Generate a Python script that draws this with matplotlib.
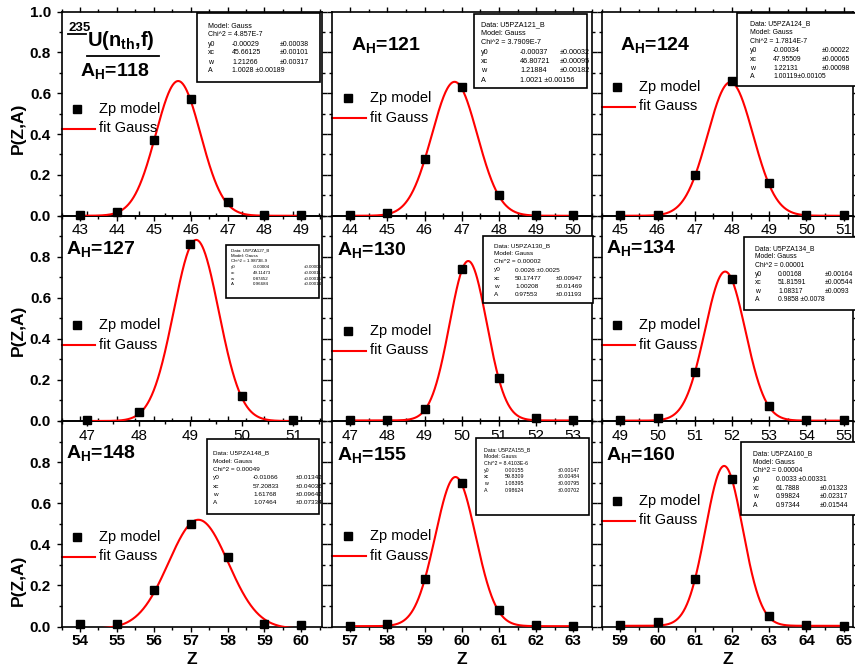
import numpy as np
import matplotlib
matplotlib.use('Agg')
import matplotlib.pyplot as plt
from matplotlib.patches import Rectangle
from matplotlib.lines import Line2D
from matplotlib.ticker import MultipleLocator

plt.rcParams['font.family'] = ['Liberation Sans', 'DejaVu Sans']
plt.rcParams['mathtext.fontset'] = 'custom'
plt.rcParams['mathtext.rm'] = 'Liberation Sans:bold'
plt.rcParams['mathtext.bf'] = 'Liberation Sans:bold'
plt.rcParams['mathtext.it'] = 'Liberation Sans:bold'
plt.rcParams['mathtext.default'] = 'bf'

# ---------------- data ----------------
mass_numbers = [118, 121, 124, 127, 130, 134, 148, 155, 160]

z_118 = [43, 44, 45, 46, 47, 48, 49]
p_118 = [0.005, 0.02, 0.37, 0.57, 0.065, 0.005, 0.003]
z_121 = [44, 45, 46, 47, 48, 49, 50]
p_121 = [0.003, 0.015, 0.28, 0.63, 0.103, 0.003, 0.003]
z_124 = [45, 46, 47, 48, 49, 50, 51]
p_124 = [0.003, 0.005, 0.20, 0.66, 0.16, 0.005, 0.003]
z_127 = [47, 48, 49, 50, 51]
p_127 = [0.005, 0.045, 0.86, 0.12, 0.003]
z_130 = [47, 48, 49, 50, 51, 52, 53]
p_130 = [0.003, 0.003, 0.06, 0.74, 0.21, 0.015, 0.003]
z_134 = [49, 50, 51, 52, 53, 54, 55]
p_134 = [0.005, 0.015, 0.24, 0.69, 0.075, 0.005, 0.003]
z_148 = [54, 55, 56, 57, 58, 59, 60]
p_148 = [0.01, 0.01, 0.18, 0.50, 0.34, 0.014, 0.008]
z_155 = [57, 58, 59, 60, 61, 62, 63]
p_155 = [0.003, 0.01, 0.23, 0.70, 0.08, 0.005, 0.003]
z_160 = [59, 60, 61, 62, 63, 64, 65]
p_160 = [0.005, 0.02, 0.23, 0.72, 0.05, 0.005, 0.003]

z_sets = [z_118, z_121, z_124, z_127, z_130, z_134, z_148, z_155, z_160]
p_sets = [p_118, p_121, p_124, p_127, p_130, p_134, p_148, p_155, p_160]

data_names = ['', 'U5PZA121_B', 'U5PZA124_B', 'U5PZA127_B', 'U5PZA130_B',
              'U5PZA134_B', 'U5PZA148_B', 'U5PZA155_B', 'U5PZA160_B']
chi2_txt = ['4.857E-7', '3.7909E-7', '1.7814E-7', '1.9873E-9', '0.00002',
            '0.00001', '0.00049', '8.4103E-6', '0.00004']
y0_txt = ['-0.00029', '-0.00037', '-0.00034', '-0.00004', '0.0026',
          '0.00168', '-0.01066', '0.00155', '0.0033']
y0_err = ['0.00038', '0.00032', '0.00022', '0.00003', '0.0025',
          '0.00164', '0.01342', '0.00147', '0.00331']
xc_txt = ['45.66125', '46.80721', '47.95509', '49.11473', '50.17477',
          '51.81591', '57.20833', '59.8309', '61.7888']
xc_err = ['0.00101', '0.00095', '0.00065', '0.00011', '0.00947',
          '0.00544', '0.04036', '0.00484', '0.01323']
w_txt = ['1.21266', '1.21884', '1.22131', '0.87452', '1.00208',
         '1.08317', '1.61768', '1.08395', '0.99824']
w_err = ['0.00317', '0.00182', '0.00098', '0.00015', '0.01469',
         '0.0093', '0.09642', '0.00795', '0.02317']
A_txt = ['1.0028', '1.0021', '1.00119', '0.96684', '0.97553',
         '0.9858', '1.07464', '0.98624', '0.97344']
A_err = ['0.00189', '0.00156', '0.00105', '0.00014', '0.01193',
         '0.0078', '0.07334', '0.00702', '0.01544']
# parameters printed with the error right after the value (panel, parameter) -> separator
inline_err = {(0, 'A'): ' ', (1, 'A'): ' ', (2, 'A'): '', (4, 'y0'): ' ',
              (5, 'A'): ' ', (8, 'y0'): ' '}

# ---------------- layout (pixels, origin top-left) ----------------
W, H = 855, 668
col_L = [61.5, 332.3, 601.7]
col_R = [321.7, 592.3, 853.0]
row_T = [11.5, 215.7, 421.0]
row_B = [215.7, 421.0, 626.5]
col_pad = [(0.50, 0.55), (0.48, 0.51), (0.50, 0.25)]

# fit boxes: left, top, right, bottom, label x, value x, error x, first line y, line step
boxes = [
    (197, 13, 320, 82, 208, 232, 280, 26.0, 9.0),
    (474, 14, 587, 88, 481, 520, 560, 24.3, 9.3),
    (737, 13, 860, 86, 750, 773, 822, 24.0, 8.8),
    (226, 245, 319, 298, 231, 253, 304, 250.0, 5.7),
    (483, 236, 593, 303, 494, 515, 556, 245.7, 8.1),
    (744, 237, 860, 310, 755, 778, 825, 248.3, 8.6),
    (207, 439, 319, 514, 213, 253, 296, 453.3, 8.2),
    (476, 438, 589, 515, 484, 505, 558, 450.0, 6.7),
    (741, 442, 860, 515, 753, 776, 820, 453.3, 8.7),
]
legend_y = [109, 98, 87, 325, 331, 325, 537, 536, 501]
title_y = [70.7, 45, 45, 249, 250, 248, 453, 455, 455]
title_dx = [18.5, 18.5, 18.5, 4.5, 4.5, 4.5, 4.5, 4.5, 4.5]
ylabel_y = [128, 330, 580]


def fx(px):
    return px / W


def fy(py):
    return 1 - py / H


fig = plt.figure(figsize=(W / 100, H / 100), dpi=100)

for k in range(9):
    r, c = divmod(k, 3)
    L, R, T, B = col_L[c], col_R[c], row_T[r], row_B[r]
    ax = fig.add_axes([fx(L), fy(B), (R - L) / W, (B - T) / H])
    ax.set_facecolor('none')
    ax.set_zorder(10 - r)

    z = np.array(z_sets[k], dtype=float)
    p = np.array(p_sets[k], dtype=float)
    y0, xc, w, A = float(y0_txt[k]), float(xc_txt[k]), float(w_txt[k]), float(A_txt[k])
    zz = np.linspace(z.min(), z.max(), 500)
    g = y0 + A / (w * np.sqrt(np.pi / 2)) * np.exp(-2 * (zz - xc) ** 2 / w ** 2)
    ax.plot(zz, g, color='#ff0000', lw=1.5, zorder=3)
    ax.plot(z, p, 's', color='black', ms=6, clip_on=False, zorder=4)

    lo, hi = col_pad[c]
    ax.set_xlim(z.min() - lo, z.max() + hi)
    ax.set_ylim(0, 1.0)
    ax.xaxis.set_major_locator(MultipleLocator(1))
    ax.xaxis.set_minor_locator(MultipleLocator(0.5))
    ax.yaxis.set_minor_locator(MultipleLocator(0.1))
    if r == 0:
        ax.set_yticks([0, 0.2, 0.4, 0.6, 0.8, 1.0])
    else:
        ax.set_yticks([0, 0.2, 0.4, 0.6, 0.8])
    ax.tick_params(which='both', direction='out', top=True, right=True, width=1.0)
    ax.tick_params(which='major', length=3.5)
    ax.tick_params(which='minor', length=2.0)
    ax.tick_params(axis='x', labelsize=11, pad=2)
    ax.tick_params(axis='y', labelsize=11, pad=4)
    for s in ax.spines.values():
        s.set_linewidth(1.2)
    if c != 0:
        ax.set_yticklabels([])
    else:
        for t in ax.get_yticklabels():
            t.set_fontweight('bold')
    if r == 2:
        for t in ax.get_xticklabels():
            t.set_fontweight('bold')

    def ax_xy(px, py, L=L, R=R, T=T, B=B):
        return (px - L) / (R - L), (B - py) / (B - T)

    # legend
    ly = legend_y[k]
    mx, my = ax_xy(L + 15.2, ly)
    ax.plot([mx], [my], 's', color='black', ms=6, transform=ax.transAxes, clip_on=False)
    tx, _ = ax_xy(L + 37.5, ly)
    ax.text(tx, my, 'Zp model', transform=ax.transAxes, fontsize=10.5,
            va='center', ha='left')
    l0, ly2 = ax_xy(L, ly + 19.5)
    l1, _ = ax_xy(L + 33.5, ly + 19.5)
    ax.plot([l0, l1], [ly2, ly2], color='#ff0000', lw=1.5, transform=ax.transAxes,
            clip_on=False)
    ax.text(tx, ly2, 'fit Gauss', transform=ax.transAxes, fontsize=10.5,
            va='center', ha='left')

    # title
    ttx, tty = ax_xy(L + title_dx[k], title_y[k])
    ax.text(ttx, tty, r'A$_{H}$=' + str(mass_numbers[k]), transform=ax.transAxes,
            fontsize=14, fontweight='bold', va='center', ha='left')

    # fit box
    bl, bt, br, bb, xl, xv, xe, ly1, dy = boxes[k]
    fig.patches.append(Rectangle((fx(bl), fy(bb)), (br - bl) / W, (bb - bt) / H,
                                 transform=fig.transFigure, fill=True,
                                 facecolor='white', edgecolor='black', lw=1.2,
                                 zorder=20))
    fs = dy * 0.78 * 0.72
    lines = []
    if data_names[k]:
        lines.append(('Data: ' + data_names[k], None, None))
    lines.append(('Model: Gauss', None, None))
    lines.append(('Chi^2 = ' + chi2_txt[k], None, None))
    for name, v, e in [('y0', y0_txt[k], y0_err[k]), ('xc', xc_txt[k], xc_err[k]),
                       ('w', w_txt[k], w_err[k]), ('A', A_txt[k], A_err[k])]:
        if (k, name) in inline_err:
            lines.append((name, v + inline_err[(k, name)] + '\u00b1' + e, None))
        else:
            lines.append((name, v, '\u00b1' + e))
    for i, (a, b, e) in enumerate(lines):
        yy = fy(ly1 + i * dy)
        fig.text(fx(xl), yy, a, fontsize=fs, va='center', ha='left', zorder=21)
        if b is not None:
            fig.text(fx(xv), yy, b, fontsize=fs, va='center', ha='left', zorder=21)
        if e is not None:
            fig.text(fx(xe), yy, e, fontsize=fs, va='center', ha='left', zorder=21)

# y labels and x labels
for r in range(3):
    fig.text(fx(18), fy(ylabel_y[r]), 'P(Z,A)', rotation=90, fontsize=12.5,
             fontweight='bold', va='center', ha='center')
for c in range(3):
    fig.text(fx((col_L[c] + min(col_R[c], 853)) / 2), fy(660), 'Z', fontsize=12.5,
             fontweight='bold', va='center', ha='center')

# reaction label with underlines
fig.text(fx(68), fy(31), '235', fontsize=9.5, fontweight='bold',
         va='baseline', ha='left', zorder=22)
fig.text(fx(87), fy(45.5), r'U(n$_{th}$,f)', fontsize=14.5, fontweight='bold',
         va='baseline', ha='left', zorder=22)
fig.lines.append(Line2D([fx(68), fx(86)], [fy(33.5), fy(33.5)], color='black', lw=1.3,
                        transform=fig.transFigure))
fig.lines.append(Line2D([fx(87), fx(159)], [fy(55.5), fy(55.5)], color='black', lw=1.3,
                        transform=fig.transFigure))

fig.savefig('out.png', dpi=100)
